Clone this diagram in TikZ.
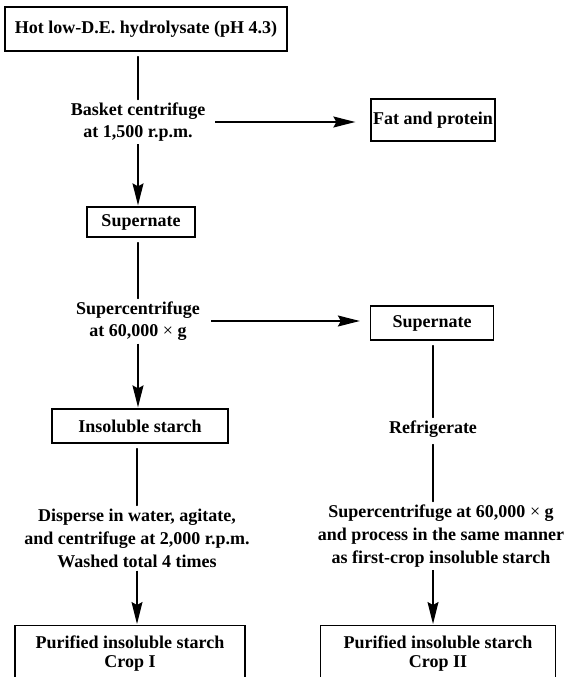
\documentclass[tikz,border=0pt]{standalone}
\usepackage{fontspec}
\setmainfont{Liberation Serif}
\usepackage{tikz}
\usetikzlibrary{
  positioning,
  calc,
  arrows.meta
}
\tikzstyle{box}=[draw, line width=1.3pt, inner sep=2pt, align=center, font=\fontsize{18}{22}\selectfont\bfseries]
\tikzstyle{proc}=[inner sep=3pt, align=center, font=\fontsize{18}{22}\selectfont\bfseries]
\tikzstyle{flow}=[line width=1.3pt, line cap=round]
\tikzstyle{flowarrow}=[-{Stealth[length=22pt, width=11pt, inset=3pt]}, line width=1.3pt]

\begin{document}
\begin{tikzpicture}[x=1pt, y=-1pt]
    \useasboundingbox (0,0) rectangle (564,677);

    % 原料
    \node[box, minimum width=282pt, minimum height=44pt] (hydro) at (146,29) {Hot low-D.E. hydrolysate (pH 4.3)};

    % 左の列
    \node[proc] (basket) at (138,122) {Basket centrifuge\\at 1,500 r.p.m.};
    \node[box, minimum width=108pt, minimum height=30pt] (supA) at (141,222) {Supernate};
    \node[proc] (scentA) at (138,321) {Supercentrifuge\\at 60,000 {\mdseries ×} g};
    \node[box, minimum width=176pt, minimum height=34pt] (insol) at (140,426) {Insoluble starch};
    \node[proc, font=\fontsize{18}{23}\selectfont\bfseries] (wash) at (137,538)
        {Disperse in water, agitate,\\and centrifuge at 2,000 r.p.m.\\Washed total 4 times};
    \node[box, anchor=north, minimum width=230pt, inner ysep=10pt, text depth=45pt,
        font=\fontsize{18}{19}\selectfont\bfseries] (cropA) at (130,625)
        {Purified insoluble starch\\Crop I};

    % 右の列
    \node[box, minimum width=124pt, minimum height=42pt] (fat) at (433,120) {Fat and protein};
    \node[box, minimum width=123pt, minimum height=34pt] (supB) at (432,323) {Supernate};
    \node[proc] (refrig) at (433,429) {Refrigerate};
    \node[proc, font=\fontsize{18}{23}\selectfont\bfseries] (scentB) at (441,536)
        {Supercentrifuge at 60,000 {\mdseries ×} g\\and process in the same manner\\as first-crop insoluble starch};
    \node[box, anchor=north, minimum width=235pt, inner ysep=10pt, text depth=45pt,
        font=\fontsize{18}{19}\selectfont\bfseries] (cropB) at (438,625)
        {Purified insoluble starch\\Crop II};

    % 左の流れ
    \draw[flow, shorten <=5pt] (basket.north |- hydro.south) -- (basket.north);
    \draw[flowarrow, shorten >=1pt] (basket.south) -- (basket.south |- supA.north);
    \draw[flow, shorten <=5pt] (scentA.north |- supA.south) -- (scentA.north);
    \draw[flowarrow, shorten >=1pt] (scentA.south) -- (scentA.south |- insol.north);
    \draw[flow, shorten <=5pt] (wash.north |- insol.south) -- (wash.north);
    \draw[flowarrow, shorten >=1pt] (wash.south) -- (wash.south |- cropA.north);

    % 横の矢印
    \draw[flowarrow, shorten <=7pt, shorten >=15pt] (basket.east) -- (basket.east -| fat.west);
    \draw[flowarrow, shorten <=8pt, shorten >=10pt] (scentA.east) -- (scentA.east -| supB.west);

    % 右の流れ
    \draw[flow, shorten <=5pt] (refrig.north |- supB.south) -- (refrig.north);
    \draw[flow, shorten <=4pt] (refrig.south) -- (refrig.south |- scentB.north);
    \draw[flowarrow, shorten >=1pt] (refrig.south |- scentB.south) -- (refrig.south |- cropB.north);
\end{tikzpicture}
\end{document}
